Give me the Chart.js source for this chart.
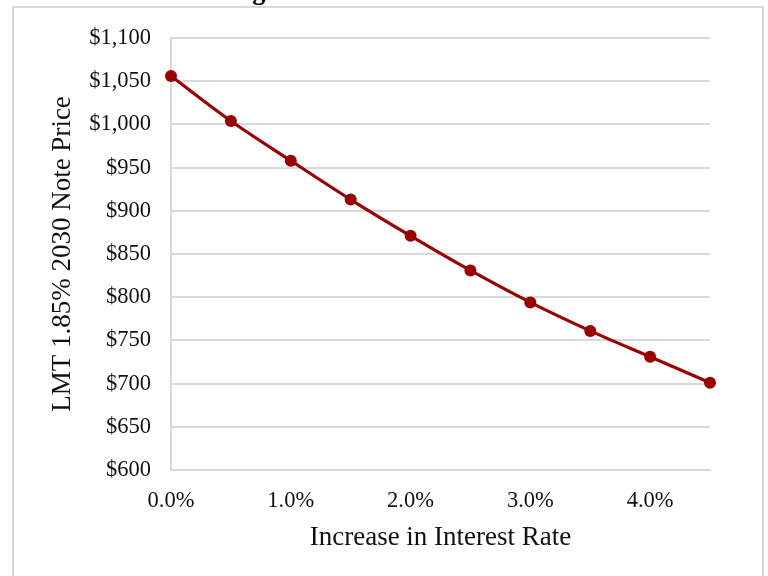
<!DOCTYPE html>
<html>
<head>
<meta charset="utf-8">
<script src="https://cdn.jsdelivr.net/npm/chart.js@4/dist/chart.umd.min.js"></script>
<style>
  html, body { margin: 0; padding: 0; background: #fff; overflow: hidden; }
  #page { position: relative; width: 768px; height: 576px; overflow: hidden; }
  #caption {
    position: absolute; left: 0; top: -21px; width: 768px;
    text-align: center; font: bold 26px/26px "Liberation Serif", "Times New Roman", serif; color: #000;
  }
  #frame {
    position: absolute; left: 12px; top: 6px; width: 748px; height: 620px;
    border: 2px solid #d9d9d9;
  }
  #chart { position: absolute; left: 0; top: 0; }
</style>
</head>
<body>
<div id="page">
  <div id="caption">Figure 3: Interest Rate Risk</div>
  <div id="frame"></div>
  <canvas id="chart" width="768" height="576"></canvas>
</div>
<script>
// Rate increase (percentage points) and the resulting note price
const rateIncrease = [0.0, 0.5, 1.0, 1.5, 2.0, 2.5, 3.0, 3.5, 4.0, 4.5];
const notePrice = [1056, 1004, 958, 913, 871, 831, 794, 761, 731, 701];

const xTitle = 'Increase in Interest Rate';
const yTitle = 'LMT 1.85% 2030 Note Price';
const priceMin = 600, priceMax = 1100, priceStep = 50;
const rateMax = 4.5, rateStep = 1;

const serif = '"Liberation Serif", "Times New Roman", serif';
const lineRed = '#9a0000';
const gridGray = '#d9d9d9';

const points = rateIncrease.map((r, i) => ({ x: r, y: notePrice[i] }));

new Chart(document.getElementById('chart'), {
  type: 'line',
  data: {
    datasets: [{
      data: points,
      borderColor: lineRed,
      backgroundColor: lineRed,
      borderWidth: 3.2,
      pointRadius: 6,
      pointBorderWidth: 0,
      pointBackgroundColor: lineRed,
      cubicInterpolationMode: 'monotone',
      clip: false,
      fill: false
    }]
  },
  options: {
    responsive: false,
    animation: false,
    events: [],
    layout: { padding: { left: 47, top: 38, right: 58, bottom: 22 } },
    plugins: { legend: { display: false }, tooltip: { enabled: false }, title: { display: false } },
    scales: {
      x: {
        type: 'linear',
        min: 0,
        max: rateMax,
        grid: { display: false, drawTicks: false },
        border: { display: true, color: gridGray, width: 2 },
        ticks: {
          stepSize: rateStep,
          includeBounds: false,
          maxRotation: 0,
          padding: 18,
          color: '#111',
          font: { family: serif, size: 22.5 },
          callback: v => v.toFixed(1) + '%'
        },
        title: {
          display: true,
          text: xTitle,
          color: '#111',
          font: { family: serif, size: 27 },
          padding: { top: 0, bottom: 0 }
        },
        afterFit: s => { s.height = 84; }
      },
      y: {
        min: priceMin,
        max: priceMax,
        grid: { color: gridGray, lineWidth: 2, drawTicks: false },
        border: { display: true, color: gridGray, width: 2 },
        ticks: {
          stepSize: priceStep,
          padding: 20,
          color: '#111',
          font: { family: serif, size: 22.5 },
          callback: v => '$' + v.toLocaleString('en-US')
        },
        title: {
          display: true,
          text: yTitle,
          color: '#111',
          font: { family: serif, size: 27 },
          padding: { top: 0, bottom: 0 }
        },
        afterFit: s => { s.width = 124; }
      }
    }
  }
});
</script>
</body>
</html>
